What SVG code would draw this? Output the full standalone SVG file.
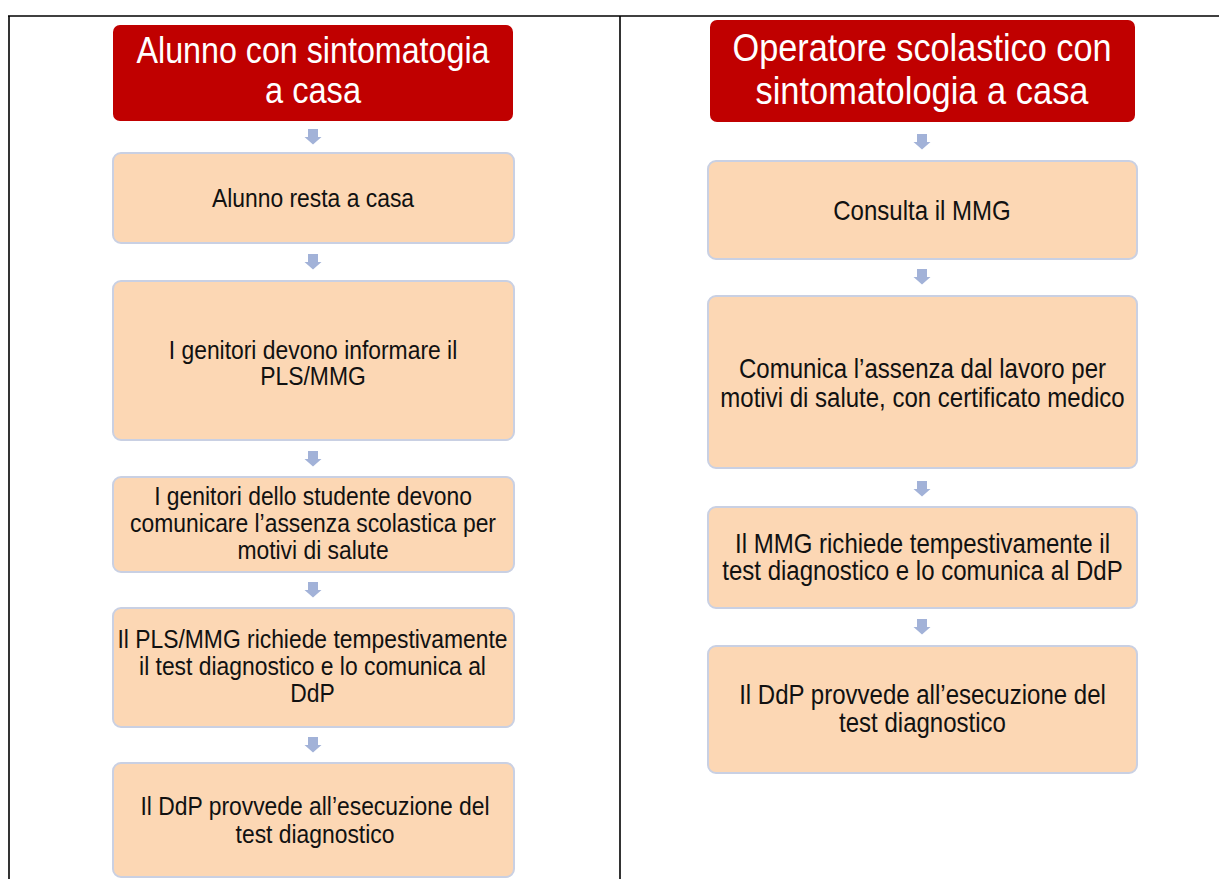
<svg xmlns="http://www.w3.org/2000/svg" width="1219" height="879" viewBox="0 0 1219 879">
<style>
.frame{stroke:#000;stroke-width:1.6;fill:none}
.hdr{fill:#c00000}
.box{fill:#fcd7b4;stroke:#c9d0e3;stroke-width:2}
.ht{font-family:"Liberation Sans",Arial,sans-serif;fill:#fff;text-anchor:middle}
.bt{font-family:"Liberation Sans",Arial,sans-serif;fill:#111;text-anchor:middle}
.l{font-size:26px}
.r{font-size:27.3px}
.arr{fill:#a2b2d8}
</style>
<defs>
<path id="ar" d="M-5,0 H5 V8 H8.5 L0,15.5 L-8.5,8 H-5 Z"/>
</defs>
<g id="frame">
<line class="frame" x1="8" y1="16" x2="1219" y2="16"/>
<line class="frame" x1="9" y1="16" x2="9" y2="879"/>
<line class="frame" x1="620" y1="16" x2="620" y2="879"/>
</g>
<g id="connectors">
<use href="#ar" class="arr" x="313" y="129"/>
<use href="#ar" class="arr" x="313" y="254"/>
<use href="#ar" class="arr" x="313" y="451"/>
<use href="#ar" class="arr" x="313" y="582"/>
<use href="#ar" class="arr" x="313" y="737"/>
<use href="#ar" class="arr" x="922" y="134"/>
<use href="#ar" class="arr" x="922" y="269"/>
<use href="#ar" class="arr" x="922" y="481"/>
<use href="#ar" class="arr" x="922" y="619"/>
</g>
<g id="L0">
<rect class="hdr" x="113" y="25" width="400" height="96" rx="7"/>
<text class="ht" x="313" y="63" font-size="37" textLength="353" lengthAdjust="spacingAndGlyphs">Alunno con sintomatogia</text>
<text class="ht" x="313" y="103" font-size="37" textLength="96" lengthAdjust="spacingAndGlyphs">a casa</text>
</g>
<g id="L1">
<rect class="box" x="113" y="153" width="401" height="90" rx="8"/>
<g transform="translate(313 0) scale(0.88 1)">
<text class="bt l" x="0" y="207">Alunno resta a casa</text>
</g>
</g>
<g id="L2">
<rect class="box" x="113" y="281" width="401" height="159" rx="8"/>
<g transform="translate(313 0) scale(0.88 1)">
<text class="bt l" x="0" y="359">I genitori devono informare il</text>
<text class="bt l" x="0" y="385">PLS/MMG</text>
</g>
</g>
<g id="L3">
<rect class="box" x="113" y="477" width="401" height="95" rx="8"/>
<g transform="translate(313 0) scale(0.88 1)">
<text class="bt l" x="0" y="505">I genitori dello studente devono</text>
<text class="bt l" x="0" y="532">comunicare l’assenza scolastica per</text>
<text class="bt l" x="0" y="559">motivi di salute</text>
</g>
</g>
<g id="L4">
<rect class="box" x="113" y="608" width="401" height="119" rx="8"/>
<g transform="translate(312.5 0) scale(0.88 1)">
<text class="bt l" x="0" y="648">Il PLS/MMG richiede tempestivamente</text>
<text class="bt l" x="0" y="675">il test diagnostico e lo comunica al</text>
<text class="bt l" x="0" y="702">DdP</text>
</g>
</g>
<g id="L5">
<rect class="box" x="113" y="763" width="401" height="114" rx="8"/>
<g transform="translate(315 0) scale(0.88 1)">
<text class="bt l" x="0" y="815">Il DdP provvede all’esecuzione del</text>
<text class="bt l" x="0" y="843">test diagnostico</text>
</g>
</g>
<g id="R0">
<rect class="hdr" x="710" y="20" width="425" height="102" rx="7"/>
<text class="ht" x="922" y="61" font-size="39" textLength="379" lengthAdjust="spacingAndGlyphs">Operatore scolastico con</text>
<text class="ht" x="922" y="104" font-size="39" textLength="333" lengthAdjust="spacingAndGlyphs">sintomatologia a casa</text>
</g>
<g id="R1">
<rect class="box" x="708" y="161" width="429" height="98" rx="8"/>
<g transform="translate(922 0) scale(0.88 1)">
<text class="bt r" x="0" y="220">Consulta il MMG</text>
</g>
</g>
<g id="R2">
<rect class="box" x="708" y="296" width="429" height="172" rx="8"/>
<g transform="translate(922.5 0) scale(0.88 1)">
<text class="bt r" x="0" y="378">Comunica l’assenza dal lavoro per</text>
<text class="bt r" x="0" y="407">motivi di salute, con certificato medico</text>
</g>
</g>
<g id="R3">
<rect class="box" x="708" y="507" width="429" height="101" rx="8"/>
<g transform="translate(922.5 0) scale(0.88 1)">
<text class="bt r" x="0" y="553">Il MMG richiede tempestivamente il</text>
<text class="bt r" x="0" y="580">test diagnostico e lo comunica al DdP</text>
</g>
</g>
<g id="R4">
<rect class="box" x="708" y="646" width="429" height="127" rx="8"/>
<g transform="translate(922.5 0) scale(0.88 1)">
<text class="bt r" x="0" y="704">Il DdP provvede all’esecuzione del</text>
<text class="bt r" x="0" y="732">test diagnostico</text>
</g>
</g>
</svg>
